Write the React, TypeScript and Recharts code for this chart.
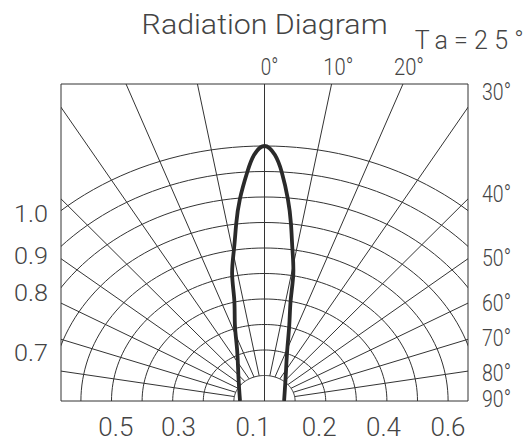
import React from 'react';
import { LineChart, Line, XAxis, YAxis, ReferenceArea } from 'recharts';

// ---------- data ----------
const ringValues = [0.1, 0.2, 0.3, 0.4, 0.5, 0.6, 0.7, 0.8, 0.9, 1.0];
const spokeAngles = [-80, -70, -60, -50, -40, -30, -20, -10, 0, 10, 20, 30, 40, 50, 60, 70, 80];

const lobeAngles = [-90, -41, -24, -18, -14, -12, -9.5, -7.6, -5.8, -3.6, -2, 0, 2, 3.6, 5.5, 7.1, 8.7, 10.7, 12.2, 15.2, 20.4, 35, 90];
const lobeIntensity = [0.08, 0.13, 0.22, 0.313, 0.408, 0.509, 0.604, 0.70, 0.796, 0.899, 0.966, 1.0, 0.966, 0.899, 0.796, 0.70, 0.603, 0.507, 0.405, 0.309, 0.213, 0.121, 0.064];

const titleText = 'Radiation Diagram';
const tempText = 'Ta=25°';
const topTickLabels = ['0°', '10°', '20°'];
const rightTickLabels = ['30°', '40°', '50°', '60°', '70°', '80°', '90°'];
const leftTickLabels = ['1.0', '0.9', '0.8', '0.7'];
const bottomTickLabels = ['0.5', '0.3', '0.1', '0.2', '0.4', '0.6'];

// ---------- layout ----------
const W = 532;
const H = 441;
const PLOT = { left: 61, top: 84, right: 468, bottom: 401 };
const PX_PER_UNIT_X = 306;
const PX_PER_UNIT_Y = 255;
const halfX = (PLOT.right - PLOT.left) / 2 / PX_PER_UNIT_X;
const topY = (PLOT.bottom - PLOT.top) / PX_PER_UNIT_Y;

const GRID_COLOR = '#333333';
const TEXT_COLOR = '#444444';
const FONT = 'Roboto, "DejaVu Sans", sans-serif';

const topPos = [
  { x: 260.7, w: 17.6 },
  { x: 323.3, w: 30 },
  { x: 394, w: 30 },
];
const rightBaselines = [100, 202, 266, 311, 346, 381, 407];
const leftBaselines = [222.3, 263.7, 301, 361];
const bottomXs = [98.3, 161, 235.6, 301.7, 366, 430.5];

const rad = (d: number) => (d * Math.PI) / 180;
const polar = (angle: number, r: number) => ({ x: r * Math.sin(rad(angle)), y: r * Math.cos(rad(angle)) });

const ringData = ringValues.map((r) => {
  const pts = [] as { x: number; y: number }[];
  for (let a = -90; a <= 90; a += 2) pts.push(polar(a, r));
  return pts;
});

const spokeData = spokeAngles.map((a) => [polar(a, a === 0 ? 0 : ringValues[0]), polar(a, 3)]);

const lobeData = lobeAngles.map((a, i) => polar(a, lobeIntensity[i]));

type T = { text: string; x: number; y: number; w: number; size: number; adjust?: 'spacing' | 'spacingAndGlyphs' };

const texts: T[] = [
  { text: titleText, x: 141.6, y: 34, w: 246, size: 28, adjust: 'spacingAndGlyphs' },
  { text: tempText, x: 414.7, y: 49.3, w: 109, size: 25, adjust: 'spacing' },
  ...topTickLabels.map((t, i) => ({ text: t, x: topPos[i].x, y: 75, w: topPos[i].w, size: 24.5 })),
  ...rightTickLabels.map((t, i) => ({ text: t, x: 482, y: rightBaselines[i], w: 29, size: 24 })),
  ...leftTickLabels.map((t, i) => ({ text: t, x: 14, y: leftBaselines[i], w: 34, size: 23 })),
  ...bottomTickLabels.map((t, i) => ({ text: t, x: bottomXs[i], y: 436, w: 35, size: 25 })),
];

export default function App() {
  return (
    <div style={{ position: 'absolute', left: 0, top: 0, width: W, height: H, background: '#fff' }}>
      <LineChart
        width={W}
        height={H}
        margin={{ top: PLOT.top, left: PLOT.left, right: W - PLOT.right, bottom: H - PLOT.bottom }}
      >
        <XAxis type="number" dataKey="x" domain={[-halfX, halfX]} hide allowDataOverflow />
        <YAxis type="number" dataKey="y" domain={[0, topY]} hide allowDataOverflow />
        {ringData.map((d, i) => (
          <Line
            key={`ring-${i}`}
            data={d}
            dataKey="y"
            type="linear"
            stroke={GRID_COLOR}
            strokeWidth={1}
            dot={false}
            activeDot={false}
            isAnimationActive={false}
          />
        ))}
        {spokeData.map((d, i) => (
          <Line
            key={`spoke-${i}`}
            data={d}
            dataKey="y"
            type="linear"
            stroke={GRID_COLOR}
            strokeWidth={1}
            dot={false}
            activeDot={false}
            isAnimationActive={false}
          />
        ))}
        <ReferenceArea
          x1={-halfX}
          x2={halfX}
          y1={0}
          y2={topY}
          fill="none"
          fillOpacity={0}
          stroke={GRID_COLOR}
          strokeWidth={1}
          ifOverflow="visible"
        />
        <Line
          data={lobeData}
          dataKey="y"
          type="natural"
          stroke="#2a2a2a"
          strokeWidth={3.8}
          dot={false}
          activeDot={false}
          isAnimationActive={false}
        />
        {texts.map((t, i) => (
          <text
            key={`t-${i}`}
            x={t.x}
            y={t.y}
            fontSize={t.size}
            fontFamily={FONT}
            fontWeight={300}
            fill={TEXT_COLOR}
            textLength={t.w}
            lengthAdjust={t.adjust ?? 'spacingAndGlyphs'}
          >
            {t.text}
          </text>
        ))}
      </LineChart>
    </div>
  );
}
